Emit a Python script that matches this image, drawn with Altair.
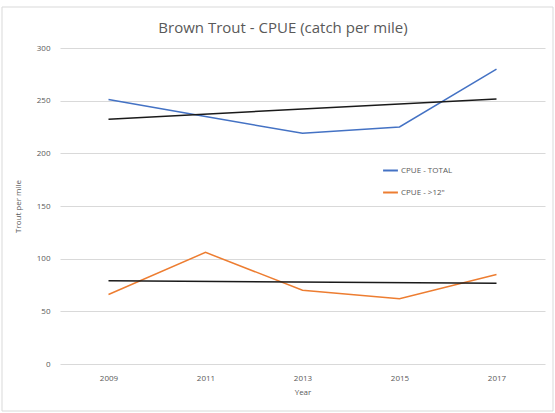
import altair as alt
import pandas as pd

years = [2009, 2011, 2013, 2015, 2017]
total = [251, 235, 219, 225, 280]
over12 = [66, 106, 70, 62, 85]
series_names = ["CPUE - TOTAL", "CPUE - >12\""]
y_ticks = [0, 50, 100, 150, 200, 250, 300]
title_text = "Brown Trout - CPUE (catch per mile)"

rows = []
for y, a, b in zip(years, total, over12):
    rows.append({"Year": y, "Trout": a, "series": series_names[0]})
    rows.append({"Year": y, "Trout": b, "series": series_names[1]})
df = pd.DataFrame(rows)

FONT = "Open Sans"
GRAY = "#595959"

x = alt.X("Year:Q", scale=alt.Scale(domain=[2008, 2018], nice=False),
          axis=alt.Axis(values=years, format="d", title="Year", grid=False,
                        domain=False, ticks=False, labelPadding=10, titlePadding=6))
y = alt.Y("Trout:Q", scale=alt.Scale(domain=[0, 300], nice=False),
          axis=alt.Axis(values=y_ticks, title="Trout per mile", domain=False, ticks=False,
                        labelPadding=10, titlePadding=14, gridColor="#d9d9d9"))

base = alt.Chart(df)

lines = base.mark_line(strokeWidth=1.5).encode(
    x=x, y=y,
    color=alt.Color("series:N", scale=alt.Scale(domain=series_names, range=["#4472C4", "#ED7D31"]),
                    legend=alt.Legend(title=None, orient="none", legendX=322, legendY=114,
                                      symbolType="stroke", symbolStrokeWidth=2, symbolSize=220,
                                      labelFontSize=8, labelColor=GRAY, labelFont=FONT,
                                      rowPadding=9, labelOffset=2))
)

trend = base.transform_regression("Year", "Trout", groupby=["series"]).mark_line(
    color="#1a1a1a", strokeWidth=1.5).encode(x="Year:Q", y="Trout:Q", detail="series:N")

deco = alt.Chart(pd.DataFrame({"t": [title_text]}))
border = deco.mark_rect(fill=None, stroke="#d9d9d9", strokeWidth=1).encode(
    x=alt.value(-58), x2=alt.value(493), y=alt.value(-41), y2=alt.value(363))
title = deco.mark_text(fontSize=15, font=FONT, color=GRAY, baseline="middle").encode(
    x=alt.value(223), y=alt.value(-20), text="t:N")

chart = alt.layer(border, title, lines, trend).properties(
    width=485, height=316,
    background="white",
    autosize=alt.AutoSizeParams(type="none"),
    padding={"left": 60, "top": 48, "right": 10, "bottom": 49},
).configure_view(stroke=None).configure_axis(
    labelFontSize=8, labelColor=GRAY, labelFont=FONT,
    titleFontSize=8, titleColor=GRAY, titleFont=FONT, titleFontWeight="normal"
)

chart.save("out.html", embed_options={"renderer": "svg", "actions": False})
